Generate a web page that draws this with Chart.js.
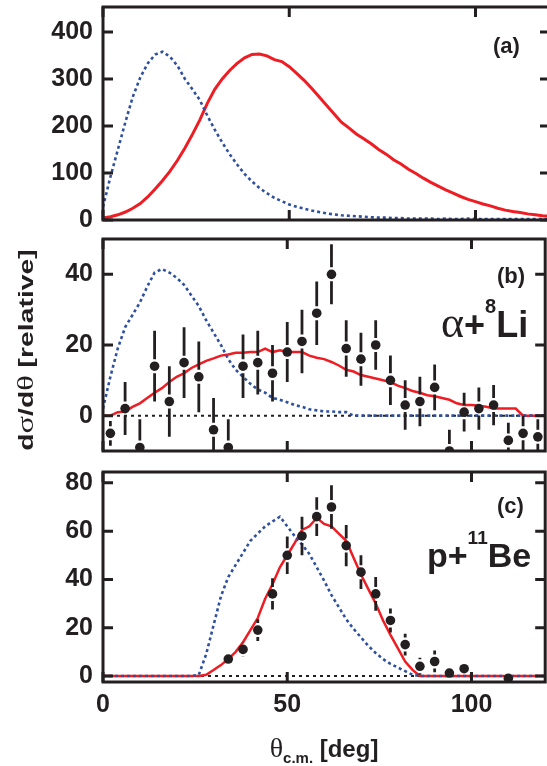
<!DOCTYPE html>
<html>
<head>
<meta charset="utf-8">
<script src="https://cdn.jsdelivr.net/npm/chart.js@4.4.1/dist/chart.umd.min.js"></script>
<style>
  html, body { margin: 0; padding: 0; background: #fff; overflow: hidden; }
  #fig { position: relative; width: 547px; height: 766px; overflow: hidden; }
  #fig canvas { position: absolute; left: 0; }
</style>
</head>
<body>
<div id="fig">
  <canvas id="panelA" width="550" height="232" style="top:0px"></canvas>
  <canvas id="panelB" width="550" height="228" style="top:232px"></canvas>
  <canvas id="panelC" width="550" height="306" style="top:460px"></canvas>
</div>
<script>
// angular grid of the simulated distributions (deg, c.m.)
const thetaGrid = [0, 2, 4, 6, 8, 10, 12, 14, 16, 18, 20, 22, 24, 26, 28, 30, 32, 34, 36, 38, 40,
  42, 44, 46, 48, 50, 52, 54, 56, 58, 60, 62, 64, 66, 68, 70, 72, 74, 76, 78, 80,
  82, 84, 86, 88, 90, 92, 94, 96, 98, 100, 102, 104, 106, 108, 110, 112, 114, 116, 118, 120];

// (a) simulated yields
const simA_red = [4, 7, 11, 17, 25, 35, 49, 66, 84, 104, 127, 153, 182, 213, 248, 278, 300, 318, 333, 345, 352,
  353, 349, 341, 337, 326, 312, 297, 280, 262, 244, 226, 208, 196, 183, 173, 162, 150, 140, 128, 119,
  108, 99, 89, 80, 72, 64, 57, 50, 44, 39, 34, 30, 25, 21, 18, 16, 13, 11, 9, 8];
const simA_blue = [28, 92, 150, 208, 262, 303, 333, 352, 358, 347, 328, 300, 278, 255, 222, 192, 165, 140, 118, 98, 82,
  68, 57, 47, 40, 33, 28, 24, 20, 17, 14, 12, 10, 9, 8, 7, 6, 5, 5, 4, 4,
  3, 3, 3, 3, 2, 3, 2, 2, 3, 2, 2, 2, 2, 2, 2, 2, 2, 2, 2, 2];

// (b) alpha + 8Li
const thetaB = [2, 6, 10, 14, 18, 22, 26, 30, 34, 38, 42, 46, 50, 54, 58, 62, 66, 70, 74, 78, 82, 86, 90, 94, 98, 102, 106, 110, 114, 118];
const dataB = [-5, 2, -9, 14, 4, 15, 11, -4, -9, 14, 15, 12, 18, 21, 29, 40, 19, 16, 20, 10, 3, 4, 8, -10, 1, 2, 3, -7, -5, -6];
const errB = [3.5, 7.5, 8, 10, 10, 10, 10, 9, 8, 9, 9, 8, 8.5, 9, 9, 8.5, 8, 7.5, 7, 7, 7, 7, 6.5, 6, 5.5, 6, 5.7, 5, 5, 5];
const simB_red = [0, 0, 1, 1.2, 2.5, 3.5, 5, 6.5, 7.8, 9.5, 11, 12, 13.5, 14.5, 15.5, 16.2, 17, 17.3, 17.8, 17.8, 18,
  18, 19, 18, 18.5, 18, 18, 18, 17, 16.4, 16, 15.2, 14.2, 13, 12.5, 11.5, 11, 10.5, 10, 9.5, 8.5,
  7.8, 7, 6.5, 5.8, 5.5, 5, 4.5, 3.5, 3, 3, 2.8, 2.5, 2, 2, 2, 2, 0, 0, 0, 0];
const simB_blue = [2, 11, 19, 25, 28.5, 32, 36.5, 40.5, 41.5, 40.5, 39, 37, 34, 31, 27, 23.5, 20, 16, 13, 11, 9,
  7.4, 6.5, 5, 4.5, 3.8, 3, 2.5, 1.8, 1.5, 1.2, 1.2, 1, 1, 0, 0, 0, 0, 0, 0, 0,
  0, 0, 0, 0, 0, 0, 0, 0, 0, 0, 0, 0, 0, 0, 0, 0, 0, 0, 0, 0];

// (c) p + 11Be
const thetaC = [34, 38, 42, 46, 50, 54, 58, 62, 66, 70, 74, 78, 82, 86, 90, 94, 98, 110];
const dataC = [7, 11, 19, 34, 50, 58, 66, 70, 54, 43, 34, 23, 13, 4, 6, 1.2, 3, -1];
const errC = [2, 3, 4.5, 6.5, 7.8, 8, 8, 9, 8.5, 7, 7, 5, 4.5, 3.5, 4.5, 2, 2, 2];
const simC_red = [0, 0, 0, 0, 0, 0, 0, 0, 0, 0, 0, 0, 0, 0, 0.5, 2.5, 4.5, 7, 10, 14, 19,
  24, 32, 38, 45, 50, 55, 60.5, 62, 65.5, 63, 62, 59, 56, 49, 42, 36, 30, 23, 17, 11.5,
  6, 2.5, 0, 0, 0, 0, 0, 0, 0, 0, 0, 0, 0, 0, 0, 0, 0, 0, 0, 0];
const simC_blue = [0, 0, 0, 0, 0, 0, 0, 0, 0, 0, 0, 0, 0, 0.5, 9, 21, 33, 41, 46, 51, 56,
  59, 62, 64, 66, 62, 58, 54.5, 50.5, 45, 39.5, 33.5, 28.5, 23.5, 19.5, 16, 12.5, 9.5, 7, 5, 3.5,
  2, 0.5, 0, 0, 0, 0, 0, 0, 0, 0, 0, 0, 0, 0, 0, 0, 0, 0, 0, 0];

const zeroLine = [0, 120];
const xTicks = [0, 50, 100];
const yTicksA = [0, 100, 200, 300, 400];
const yTicksB = [0, 20, 40];
const yTicksC = [0, 20, 40, 60, 80];

const INK = '#231f20';
const RED = '#ee1d24';
const BLUE = '#2f4f9f';
const SANS = '"Liberation Sans", Arial, Helvetica, sans-serif';
const SERIF = '"Liberation Serif", "Times New Roman", serif';

const pairs = (xs, ys) => xs.map((x, i) => ({ x: x, y: ys[i] }));

// box around the plot area with inward tick marks on all four sides
const framePlugin = {
  id: 'frame',
  afterDraw(chart) {
    const { ctx, chartArea: a, scales } = chart;
    const len = 10;
    ctx.save();
    ctx.strokeStyle = INK;
    ctx.lineWidth = 3;
    ctx.strokeRect(a.left, a.top, a.right - a.left, a.bottom - a.top);
    ctx.beginPath();
    scales.y.ticks.forEach(t => {
      const y = scales.y.getPixelForValue(t.value);
      ctx.moveTo(a.left, y); ctx.lineTo(a.left + len, y);
      ctx.moveTo(a.right, y); ctx.lineTo(a.right - len, y);
    });
    scales.x.ticks.forEach(t => {
      const x = scales.x.getPixelForValue(t.value);
      ctx.moveTo(x, a.top); ctx.lineTo(x, a.top + len);
      ctx.moveTo(x, a.bottom); ctx.lineTo(x, a.bottom - len);
    });
    ctx.stroke();
    ctx.restore();
  }
};

// vertical error bars, broken around the marker
const errorBarPlugin = {
  id: 'errorBars',
  afterDatasetsDraw(chart) {
    const { ctx, chartArea: a, scales } = chart;
    ctx.save();
    ctx.beginPath();
    ctx.rect(a.left, a.top, a.right - a.left, a.bottom - a.top);
    ctx.clip();
    ctx.strokeStyle = INK;
    ctx.lineWidth = 2.8;
    chart.data.datasets.forEach(ds => {
      if (!ds.errors) return;
      const gap = 7;
      ctx.beginPath();
      ds.data.forEach((p, i) => {
        const x = scales.x.getPixelForValue(p.x);
        const yc = scales.y.getPixelForValue(p.y);
        const yHi = scales.y.getPixelForValue(p.y + ds.errors[i]);
        const yLo = scales.y.getPixelForValue(p.y - ds.errors[i]);
        if (yc - gap > yHi) { ctx.moveTo(x, yHi); ctx.lineTo(x, yc - gap); }
        if (yc + gap < yLo) { ctx.moveTo(x, yc + gap); ctx.lineTo(x, yLo); }
      });
      ctx.stroke();
    });
    ctx.restore();
  }
};

Chart.register(framePlugin, errorBarPlugin);

// labels made of runs in mixed fonts (greek symbols, super/subscripts)
function textPlugin(items) {
  return {
    id: 'panelText',
    afterDraw(chart) {
      const ctx = chart.ctx;
      items.forEach(item => {
        ctx.save();
        ctx.fillStyle = INK;
        ctx.textBaseline = 'alphabetic';
        ctx.textAlign = 'left';
        ctx.translate(item.x, item.y);
        if (item.rotate) ctx.rotate(item.rotate);
        if (item.stretch) ctx.scale(item.stretch, 1);
        let w = 0;
        item.parts.forEach(p => { ctx.font = p.font; w += ctx.measureText(p.text).width; });
        let x = item.center ? -w / 2 : 0;
        item.parts.forEach(p => {
          ctx.font = p.font;
          ctx.fillText(p.text, x, p.dy || 0);
          x += ctx.measureText(p.text).width;
        });
        ctx.restore();
      });
    }
  };
}

function lineSet(xs, ys, color, dashed, width, order) {
  return {
    data: pairs(xs, ys),
    borderColor: color,
    borderWidth: width,
    borderDash: dashed ? [3, 3] : [],
    pointRadius: 0,
    fill: false,
    tension: 0,
    order: order
  };
}

function zeroSet() {
  return {
    data: pairs(zeroLine, [0, 0]),
    borderColor: INK,
    borderWidth: 2,
    borderDash: [3, 4],
    pointRadius: 0,
    fill: false,
    order: 4
  };
}

function pointSet(xs, ys, errs) {
  return {
    data: pairs(xs, ys),
    errors: errs,
    showLine: false,
    pointRadius: 4.8,
    pointBackgroundColor: INK,
    pointBorderWidth: 0,
    order: 0
  };
}

function makeOptions(cfg) {
  return {
    responsive: false,
    animation: false,
    devicePixelRatio: 1,
    events: [],
    layout: { padding: { top: cfg.padTop, bottom: cfg.padBottom, left: 0, right: 0 } },
    plugins: { legend: { display: false }, tooltip: { enabled: false } },
    scales: {
      x: {
        type: 'linear', min: 0, max: 120,
        grid: { display: false, drawTicks: false },
        border: { display: false },
        afterBuildTicks: s => { s.ticks = xTicks.map(v => ({ value: v })); },
        afterFit: s => { s.height = cfg.xHeight; s.paddingLeft = 0; s.paddingRight = 0; },
        ticks: {
          display: cfg.xLabels,
          color: INK,
          padding: 8,
          maxRotation: 0,
          font: { family: SANS, size: 25, weight: 'bold' }
        }
      },
      y: {
        type: 'linear', min: cfg.yMin, max: cfg.yMax,
        grid: { display: false, drawTicks: false },
        border: { display: false },
        afterBuildTicks: s => { s.ticks = cfg.yTicks.map(v => ({ value: v })); },
        afterFit: s => { s.width = 103; s.paddingTop = 0; s.paddingBottom = 0; },
        ticks: {
          color: INK,
          padding: 10,
          font: { family: SANS, size: 25, weight: 'bold' }
        }
      }
    }
  };
}

const bold = size => 'bold ' + size + 'px ' + SANS;
const serif = size => size + 'px ' + SERIF;

// (a)
new Chart(document.getElementById('panelA'), {
  type: 'line',
  data: {
    datasets: [
      lineSet(thetaGrid, simA_blue, BLUE, true, 2.6, 1),
      lineSet(thetaGrid, simA_red, RED, false, 3, 2)
    ]
  },
  options: makeOptions({ padTop: 7, padBottom: 12, xHeight: 0, xLabels: false, yMin: 0, yMax: 453, yTicks: yTicksA }),
  plugins: [textPlugin([
    { x: 493, y: 53, parts: [{ text: '(a)', font: bold(22) }] }
  ])]
});

// (b)
new Chart(document.getElementById('panelB'), {
  type: 'line',
  data: {
    datasets: [
      pointSet(thetaB, dataB, errB),
      lineSet(thetaGrid, simB_blue, BLUE, true, 2.6, 1),
      lineSet(thetaGrid, simB_red, RED, false, 2.5, 2),
      zeroSet()
    ]
  },
  options: makeOptions({ padTop: 7, padBottom: 9, xHeight: 0, xLabels: false, yMin: -10, yMax: 50, yTicks: yTicksB }),
  plugins: [textPlugin([
    { x: 497, y: 51, parts: [{ text: '(b)', font: bold(22) }] },
    { x: 441, y: 105, parts: [
      { text: 'α', font: serif(44) },
      { text: '+', font: bold(36) },
      { text: '8', font: bold(20), dy: -24 },
      { text: 'Li', font: bold(36) }
    ] },
    { x: 33, y: 118, rotate: -Math.PI / 2, stretch: 1.35, center: true, parts: [
      { text: 'd', font: bold(21) },
      { text: 'σ', font: serif(24) },
      { text: '/d', font: bold(21) },
      { text: 'θ', font: serif(24) },
      { text: ' [relative]', font: bold(21) }
    ] }
  ])]
});

// (c)
new Chart(document.getElementById('panelC'), {
  type: 'line',
  data: {
    datasets: [
      pointSet(thetaC, dataC, errC),
      lineSet(thetaGrid, simC_blue, BLUE, true, 2.6, 1),
      lineSet(thetaGrid, simC_red, RED, false, 2.5, 2),
      zeroSet()
    ]
  },
  options: makeOptions({ padTop: 12, padBottom: 0, xHeight: 84, xLabels: true, yMin: -2.5, yMax: 84.5, yTicks: yTicksC }),
  plugins: [textPlugin([
    { x: 497, y: 53, parts: [{ text: '(c)', font: bold(22) }] },
    { x: 427, y: 107, parts: [
      { text: 'p+', font: bold(34) },
      { text: '11', font: bold(19), dy: -23 },
      { text: 'Be', font: bold(34) }
    ] },
    { x: 324, y: 297, center: true, parts: [
      { text: 'θ', font: serif(28) },
      { text: 'c.m.', font: bold(15), dy: 6 },
      { text: ' [deg]', font: bold(24) }
    ] }
  ])]
});
</script>
</body>
</html>
